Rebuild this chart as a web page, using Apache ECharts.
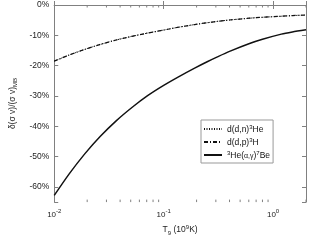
<!DOCTYPE html>
<html><head><meta charset="utf-8">
<script src="https://cdn.jsdelivr.net/npm/echarts@6/dist/echarts.min.js"></script>
<style>html,body{margin:0;padding:0;background:#fff}#c{width:313px;height:241px}</style>
</head><body><div id="c"></div>
<script>
var tValues = [0.01, 0.0137, 0.019, 0.0264, 0.0368, 0.0513, 0.0713, 0.1, 0.138, 0.192, 0.25, 0.31, 0.4, 0.61, 0.8, 1.19, 1.5, 2];
var ddnValues = [-18.5, -16.5, -14.65, -13.0, -11.55, -10.33, -9.26, -8.26, -7.3, -6.45, -5.85, -5.4, -4.95, -4.35, -4.05, -3.7, -3.5, -3.3];
var ddpValues = [-18.5, -16.5, -14.65, -13.0, -11.55, -10.33, -9.26, -8.26, -7.3, -6.45, -5.85, -5.4, -4.95, -4.35, -4.05, -3.7, -3.5, -3.3];
var heValues = [-62.8, -55.7, -49.1, -43.3, -38.2, -33.8, -29.9, -26.5, -23.6, -20.8, -18.7, -17.1, -15.3, -12.7, -11.3, -9.6, -8.9, -8.2];
var seriesNames = ['d(d,n)3He', 'd(d,p)3H', '3He(a,g)7Be'];
var minorTickValues = [0.02,0.03,0.04,0.05,0.06,0.07,0.08,0.09,0.2,0.3,0.4,0.5,0.6,0.7,0.8,0.9,2];
var yMin = -65, yMax = 0, xMin = 0.01, xMax = 2;

function pairs(xs, ys){ return xs.map(function(x,i){ return [x, ys[i]]; }); }
var FONT = 'Liberation Sans';
var AX = '#808080';
var NOFILL = 'rgba(0,0,0,0)';
var chart = echarts.init(document.getElementById('c'), null, {renderer:'canvas'});

function xLabel(v){
  var e = Math.log10(v);
  if (Math.abs(e - Math.round(e)) > 1e-6) return '';
  return '{b|10}{s|' + Math.round(e) + '}';
}
var legendLabels = {
  'd(d,n)3He': '{t|d(d,n)}{s|3}{t|He}',
  'd(d,p)3H': '{t|d(d,p)}{s|3}{t|H}',
  '3He(a,g)7Be': '{s|3}{t|He(}{g|α,γ}{t|)}{s|7}{t|Be}'
};

var option = {
  animation: false,
  backgroundColor: '#fff',
  textStyle: {fontFamily: FONT},
  grid: {left: 41.5, right: 7, top: 5, bottom: 33, containLabel: false},
  legend: {
    orient: 'vertical', left: 201, top: 120,
    backgroundColor: '#fff', borderColor: '#999', borderWidth: 1,
    padding: [4, 3, 3, 2], itemGap: 3, itemWidth: 18, itemHeight: 10,
    data: seriesNames,
    itemStyle: {color: NOFILL, borderWidth: 0, borderColor: NOFILL},
    formatter: function(n){ return legendLabels[n]; },
    textStyle: {
      color: '#111', fontFamily: FONT, fontSize: 8,
      rich: {
        t: {fontSize: 8.5, fontFamily: FONT, color: '#111', verticalAlign: 'bottom', lineHeight: 10},
        s: {fontSize: 6, fontFamily: FONT, color: '#111', verticalAlign: 'top', lineHeight: 10},
        g: {fontSize: 7, fontFamily: FONT, color: '#111', verticalAlign: 'bottom', lineHeight: 10}
      }
    }
  },
  xAxis: [{
    type: 'log', logBase: 10, min: xMin, max: xMax,
    axisLine: {lineStyle: {color: AX, width: 1}},
    axisTick: {inside: true, length: 4, lineStyle: {color: AX}},
    splitLine: {show: false},
    axisLabel: {
      formatter: xLabel, margin: 6, showMinLabel: true, showMaxLabel: true,
      rich: {
        b: {fontSize: 8, fontFamily: FONT, color: '#222', verticalAlign: 'bottom', lineHeight: 11},
        s: {fontSize: 6, fontFamily: FONT, color: '#222', verticalAlign: 'top', lineHeight: 11}
      }
    },
    name: '{t|T}{sub|9}{t| (10}{sup|9}{t|K)}',
    nameLocation: 'middle', nameGap: 20,
    nameTextStyle: {
      rich: {
        t: {fontSize: 8.5, fontFamily: FONT, color: '#222', verticalAlign: 'middle', lineHeight: 12},
        sub: {fontSize: 6, fontFamily: FONT, color: '#222', verticalAlign: 'bottom', lineHeight: 12},
        sup: {fontSize: 6, fontFamily: FONT, color: '#222', verticalAlign: 'top', lineHeight: 12}
      }
    }
  }, {
    type: 'log', logBase: 10, min: xMin, max: xMax, position: 'top',
    axisLine: {lineStyle: {color: AX, width: 1}},
    axisTick: {inside: true, length: 4, lineStyle: {color: AX}},
    axisLabel: {show: false}, splitLine: {show: false}
  }],
  yAxis: [{
    type: 'value', min: yMin, max: yMax, splitNumber: 7,
    axisLine: {show: true, lineStyle: {color: AX, width: 1}},
    axisTick: {show: true, inside: true, length: 4, lineStyle: {color: AX}},
    splitLine: {show: false},
    axisLabel: {
      fontSize: 8.5, fontFamily: FONT, color: '#222', margin: 5,
      formatter: function(v){ return (Math.round(v) % 10 === 0) ? Math.round(v) + '%' : ''; }
    },
    name: '{t|δ(σ v)/(σ v)}{sub|MB}',
    nameLocation: 'middle', nameGap: 30, nameRotate: 90,
    nameTextStyle: {
      rich: {
        t: {fontSize: 8.5, fontFamily: FONT, color: '#222', verticalAlign: 'middle', lineHeight: 12},
        sub: {fontSize: 6, fontFamily: FONT, color: '#222', verticalAlign: 'bottom', lineHeight: 12}
      }
    }
  }, {
    type: 'value', min: yMin, max: yMax, splitNumber: 7, position: 'right',
    axisLine: {show: true, lineStyle: {color: AX, width: 1}},
    axisTick: {show: true, inside: true, length: 4, lineStyle: {color: AX}},
    axisLabel: {show: false}, splitLine: {show: false}
  }],
  series: [
    {
      name: seriesNames[0], type: 'line', data: pairs(tValues, ddnValues),
      showSymbol: false, symbol: 'none', smooth: 0.25, z: 3,
      itemStyle: {color: NOFILL, borderColor: NOFILL},
      lineStyle: {color: '#111', width: 1, type: [1, 1.5]}
    },
    {
      name: seriesNames[1], type: 'line', data: pairs(tValues, ddpValues),
      showSymbol: false, symbol: 'none', smooth: 0.25, z: 4,
      itemStyle: {color: NOFILL, borderColor: NOFILL},
      lineStyle: {color: '#111', width: 1.2, type: [4, 2, 1, 2]}
    },
    {
      name: seriesNames[2], type: 'line', data: pairs(tValues, heValues),
      showSymbol: false, symbol: 'none', smooth: 0.25, z: 5,
      itemStyle: {color: NOFILL, borderColor: NOFILL},
      lineStyle: {color: '#111', width: 1.5, type: 'solid'}
    },
    {
      type: 'custom', silent: true, z: 6,
      data: minorTickValues.map(function(v){ return [v]; }),
      renderItem: function(params, api){
        var x = api.value(0);
        var b = api.coord([x, yMin]);
        var t = api.coord([x, yMax]);
        var st = {stroke: AX, lineWidth: 1};
        return {type: 'group', children: [
          {type: 'line', shape: {x1: b[0], y1: b[1], x2: b[0], y2: b[1] - 2.5}, style: st},
          {type: 'line', shape: {x1: t[0], y1: t[1], x2: t[0], y2: t[1] + 2.5}, style: st}
        ]};
      }
    }
  ]
};
chart.setOption(option);
</script>
</body></html>
